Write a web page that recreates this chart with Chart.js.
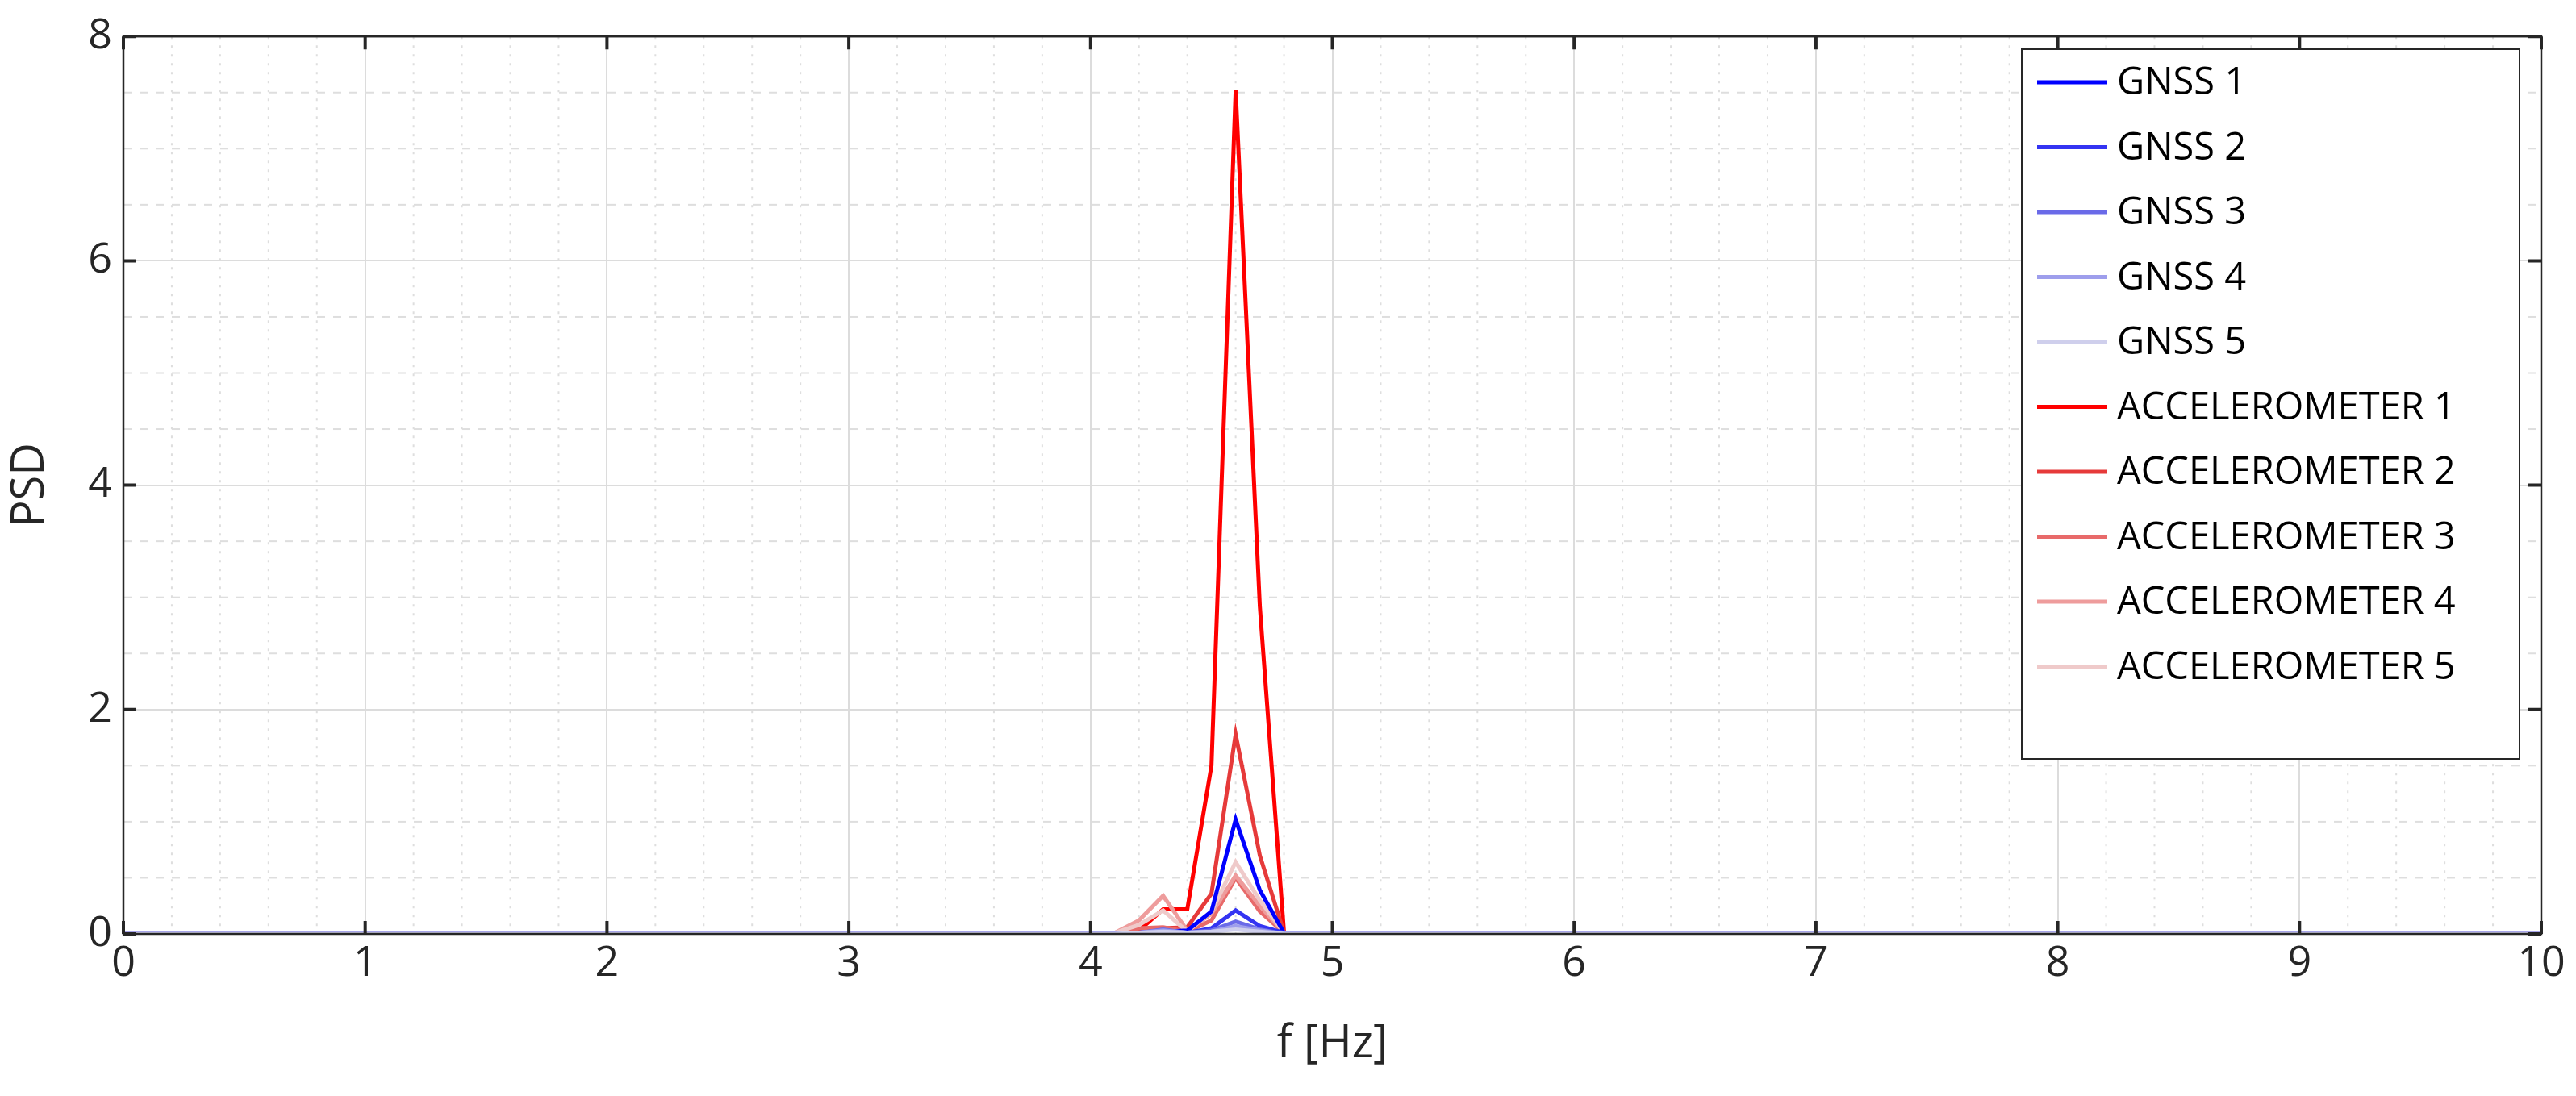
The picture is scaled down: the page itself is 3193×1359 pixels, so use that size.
<!DOCTYPE html>
<html><head><meta charset="utf-8">
<script src="https://cdn.jsdelivr.net/npm/chart.js@4/dist/chart.umd.min.js"></script>
<style>html,body{margin:0;padding:0;background:#fff}#w{width:3193px;height:1359px}</style>
</head><body><div id="w"><canvas id="c"></canvas></div>
<script>
const freq = [0, 4.0, 4.1, 4.2, 4.3, 4.4, 4.5, 4.6, 4.7, 4.8, 4.9, 10];
const labels = ['GNSS 1','GNSS 2','GNSS 3','GNSS 4','GNSS 5','ACCELEROMETER 1','ACCELEROMETER 2','ACCELEROMETER 3','ACCELEROMETER 4','ACCELEROMETER 5'];
const colors = ['#0000ff','#3434f2','#6a6ae8','#9e9eec','#cfcfec','#ff0000','#e63a3a','#e86a6a','#ee9c9c','#efcaca'];
const gnss1 = [0, 0, 0, 0.01, 0.02, 0.03, 0.20, 1.02, 0.39, 0.01, 0, 0];
const gnss2 = [0, 0, 0, 0.01, 0.03, 0.01, 0.05, 0.21, 0.07, 0.01, 0, 0];
const gnss3 = [0, 0, 0, 0.01, 0.04, 0.01, 0.03, 0.11, 0.04, 0, 0, 0];
const gnss4 = [0, 0, 0, 0.01, 0.03, 0.01, 0.02, 0.07, 0.03, 0, 0, 0];
const gnss5 = [0, 0, 0, 0.01, 0.02, 0.01, 0.02, 0.04, 0.02, 0, 0, 0];
const acc1 = [0, 0, 0, 0.03, 0.22, 0.22, 1.50, 7.52, 2.92, 0.01, 0, 0];
const acc2 = [0, 0, 0, 0.04, 0.05, 0.06, 0.36, 1.78, 0.70, 0.01, 0, 0];
const acc3 = [0, 0, 0, 0.05, 0.06, 0.02, 0.12, 0.50, 0.20, 0.01, 0, 0];
const acc4 = [0, 0, 0.01, 0.12, 0.34, 0.03, 0.18, 0.52, 0.25, 0.01, 0, 0];
const acc5 = [0, 0, 0.01, 0.08, 0.21, 0.02, 0.20, 0.64, 0.30, 0.01, 0, 0];
const series = [gnss1,gnss2,gnss3,gnss4,gnss5,acc1,acc2,acc3,acc4,acc5];
const xTicks = [0,1,2,3,4,5,6,7,8,9,10];
const yTicks = [0,2,4,6,8];

const FONT = '"Open Sans", "Liberation Sans", sans-serif';
const datasets = series.map((s,i)=>({label:labels[i],data:s.map((v,j)=>({x:freq[j],y:v})),borderColor:colors[i],backgroundColor:colors[i],borderWidth:5,pointRadius:0,tension:0,fill:false}));
const drawOrder = [4,3,2,1,0,9,8,7,6,5];
drawOrder.forEach((k,idx)=>datasets[k].order = idx);

const extras = {
  id:'extras',
  beforeDatasetsDraw(ch){
    const {ctx, chartArea:a, scales:{x,y}} = ch;
    ctx.save();
    ctx.strokeStyle='#dedede'; ctx.lineWidth=2;
    ctx.setLineDash([3,8]);
    for(let v=0; v<=100; v+=2){ if(v%10===0) continue; const px=x.getPixelForValue(v/10); ctx.beginPath(); ctx.moveTo(px,a.top); ctx.lineTo(px,a.bottom); ctx.stroke(); }
    ctx.setLineDash([10,10]);
    for(let v=1; v<16; v++){ if(v%4===0) continue; const py=y.getPixelForValue(v/2); ctx.beginPath(); ctx.moveTo(a.left,py); ctx.lineTo(a.right,py); ctx.stroke(); }
    ctx.restore();
  },
  afterDatasetsDraw(ch){
    const {ctx, chartArea:a, scales:{x,y}} = ch;
    ctx.save();
    ctx.strokeStyle='#262626'; ctx.lineWidth=2.5;
    ctx.strokeRect(a.left,a.top,a.right-a.left,a.bottom-a.top);
    ctx.lineWidth=4;
    xTicks.forEach(v=>{const px=x.getPixelForValue(v); ctx.beginPath(); ctx.moveTo(px,a.bottom); ctx.lineTo(px,a.bottom-16); ctx.moveTo(px,a.top); ctx.lineTo(px,a.top+16); ctx.stroke();});
    yTicks.forEach(v=>{const py=y.getPixelForValue(v); ctx.beginPath(); ctx.moveTo(a.left,py); ctx.lineTo(a.left+16,py); ctx.moveTo(a.right,py); ctx.lineTo(a.right-16,py); ctx.stroke();});
    const lx=2506, ly=61, lw=617, lh=880;
    ctx.fillStyle='#fff'; ctx.fillRect(lx,ly,lw,lh);
    ctx.lineWidth=2; ctx.strokeStyle='#262626'; ctx.strokeRect(lx,ly,lw,lh);
    ctx.font='47px '+FONT; ctx.textBaseline='middle'; ctx.textAlign='left';
    labels.forEach((t,i)=>{
      const cy = 102 + i*80.5;
      ctx.strokeStyle=colors[i]; ctx.lineWidth=5;
      ctx.beginPath(); ctx.moveTo(2525,cy); ctx.lineTo(2612,cy); ctx.stroke();
      ctx.fillStyle='#000'; ctx.fillText(t,2624,cy+2);
    });
    ctx.restore();
  }
};

new Chart(document.getElementById('c'),{
  type:'line',
  data:{datasets},
  options:{
    responsive:true, maintainAspectRatio:false, animation:false,
    devicePixelRatio:1,
    layout:{padding:{top:37,right:43,left:0,bottom:0}},
    plugins:{legend:{display:false},tooltip:{enabled:false}},
    scales:{
      x:{type:'linear',min:0,max:10,
        afterFit(s){s.height=201;},
        ticks:{stepSize:1,font:{size:52,family:FONT},color:'#262626',padding:6,maxRotation:0},
        grid:{color:'#dcdcdc',lineWidth:2,drawTicks:false},
        border:{display:false},
        title:{display:true,text:'f [Hz]',font:{size:56,family:FONT},color:'#262626',padding:{top:4,bottom:30}}},
      y:{type:'linear',min:0,max:8,
        afterFit(s){s.width=153;},
        afterBuildTicks(s){s.ticks=yTicks.map(v=>({value:v}));},
        ticks:{font:{size:52,family:FONT},color:'#262626',padding:14},
        grid:{color:'#dcdcdc',lineWidth:2,drawTicks:false},
        border:{display:false},
        title:{display:true,text:'PSD',font:{size:56,family:FONT},color:'#262626',padding:{bottom:4}}}
    }
  },
  plugins:[extras]
});
</script></body></html>
